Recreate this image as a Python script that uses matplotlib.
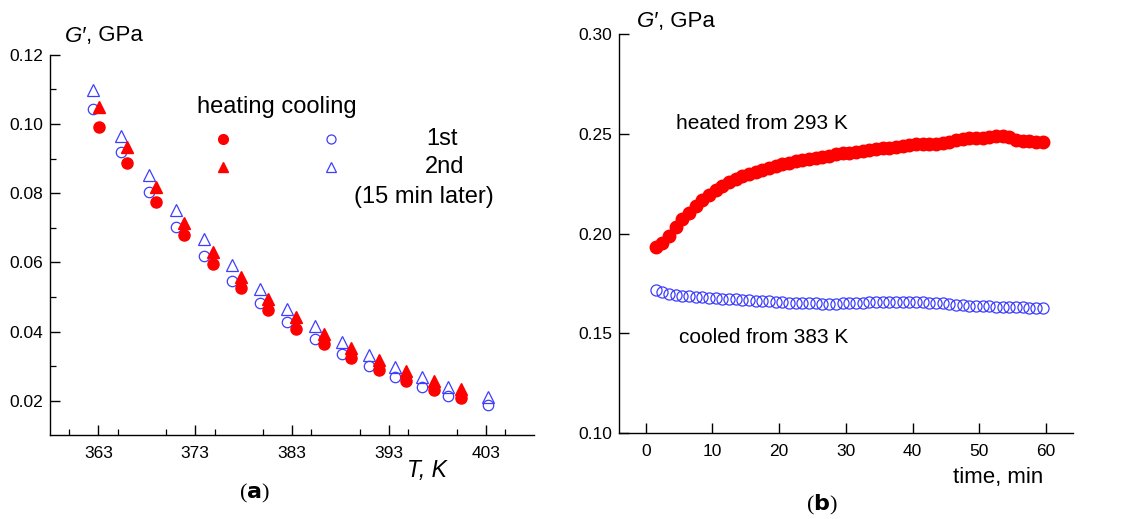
import matplotlib
matplotlib.use("Agg")
import matplotlib.pyplot as plt
from matplotlib.ticker import MultipleLocator

plt.rcParams['font.family'] = ['Liberation Sans', 'DejaVu Sans']

RED = '#ff0000'
BLUE = '#3d3dff'

# ---------- panel (a) data ----------
T_cool = [362.45, 365.34, 368.20, 371.05, 373.91, 376.77, 379.69, 382.50,
          385.39, 388.18, 390.97, 393.69, 396.48, 399.16, 403.25]
G_cool_1st = [0.1043, 0.0918, 0.0803, 0.0703, 0.0619, 0.0545, 0.0483, 0.0428,
              0.0378, 0.0336, 0.0300, 0.0269, 0.0240, 0.0215, 0.0187]
G_cool_2nd = [0.1098, 0.0966, 0.0853, 0.0751, 0.0667, 0.0592, 0.0523, 0.0466,
              0.0415, 0.0370, 0.0331, 0.0298, 0.0268, 0.0241, 0.0212]
T_heat = [363.02, 365.96, 368.95, 371.84, 374.81, 377.73, 380.54, 383.40,
          386.29, 389.08, 392.00, 394.75, 397.67, 400.50]
G_heat_1st = [0.0990, 0.0886, 0.0775, 0.0679, 0.0595, 0.0525, 0.0462, 0.0408,
              0.0363, 0.0323, 0.0289, 0.0258, 0.0231, 0.0209]
G_heat_2nd = [0.1050, 0.0933, 0.0817, 0.0715, 0.0631, 0.0558, 0.0494, 0.0441,
              0.0392, 0.0352, 0.0318, 0.0287, 0.0258, 0.0233]

# ---------- panel (b) data ----------
time_min = [1.5, 2.5, 3.5, 4.5, 5.5, 6.5, 7.5, 8.5, 9.5, 10.5, 11.5, 12.5, 13.5,
            14.5, 15.5, 16.5, 17.5, 18.5, 19.5, 20.5, 21.5, 22.5, 23.5, 24.5,
            25.5, 26.5, 27.5, 28.5, 29.5, 30.5, 31.5, 32.5, 33.5, 34.5, 35.5,
            36.5, 37.5, 38.5, 39.5, 40.5, 41.5, 42.5, 43.5, 44.5, 45.5, 46.5,
            47.5, 48.5, 49.5, 50.5, 51.5, 52.5, 53.5, 54.5, 55.5, 56.5, 57.5,
            58.5, 59.5]
G_heated = [0.1932, 0.1955, 0.1990, 0.2035, 0.2072, 0.2105, 0.2140, 0.2168,
            0.2195, 0.2220, 0.2240, 0.2258, 0.2273, 0.2287, 0.2298, 0.2310,
            0.2320, 0.2330, 0.2339, 0.2347, 0.2355, 0.2362, 0.2369, 0.2375,
            0.2381, 0.2386, 0.2392, 0.2398, 0.2403, 0.2406, 0.2410, 0.2415,
            0.2420, 0.2426, 0.2430, 0.2432, 0.2435, 0.2440, 0.2446, 0.2450,
            0.2452, 0.2450, 0.2452, 0.2456, 0.2462, 0.2468, 0.2474, 0.2478,
            0.2478, 0.2480, 0.2485, 0.2490, 0.2492, 0.2483, 0.2472, 0.2466,
            0.2463, 0.2461, 0.2460]
G_cooled = [0.1715, 0.1705, 0.1697, 0.1692, 0.1688, 0.1685, 0.1682, 0.1680,
            0.1678, 0.1676, 0.1674, 0.1672, 0.1670, 0.1668, 0.1666, 0.1664,
            0.1662, 0.1660, 0.1658, 0.1656, 0.1654, 0.1652, 0.1651, 0.1650,
            0.1650, 0.1649, 0.1649, 0.1649, 0.1650, 0.1651, 0.1652, 0.1654,
            0.1655, 0.1656, 0.1657, 0.1658, 0.1658, 0.1658, 0.1657, 0.1656,
            0.1655, 0.1654, 0.1652, 0.1650, 0.1647, 0.1644, 0.1641, 0.1639,
            0.1637, 0.1636, 0.1635, 0.1634, 0.1633, 0.1632, 0.1631, 0.1630,
            0.1629, 0.1628, 0.1627]

a_xticks = [363, 373, 383, 393, 403]
a_yticks = [0.02, 0.04, 0.06, 0.08, 0.10, 0.12]
b_xticks = [0, 10, 20, 30, 40, 50, 60]
b_yticks = [0.10, 0.15, 0.20, 0.25, 0.30]

W, H = 1127, 519
fig = plt.figure(figsize=(W / 100, H / 100), dpi=100)


def style(ax):
    for s in ['top', 'right']:
        ax.spines[s].set_visible(False)
    for s in ['left', 'bottom']:
        ax.spines[s].set_linewidth(1.0)
    ax.tick_params(which='major', direction='in', length=7, width=1.0,
                   labelsize=12.5, colors='black')
    ax.tick_params(which='minor', direction='in', length=4, width=0.9)


def ftext(x, y, s, **kw):
    fig.text(x / W, 1 - y / H, s, **kw)


# ---------- panel (a) ----------
axa = fig.add_axes([50 / W, 1 - 435 / H, 484 / W, (435 - 54.7) / H])
style(axa)
axa.set_xlim(358, 408)
axa.set_ylim(0.0101, 0.12)
axa.set_xticks(a_xticks)
axa.set_yticks(a_yticks)
axa.set_yticklabels([f"{v:.2f}" for v in a_yticks])
axa.xaxis.set_minor_locator(MultipleLocator(5))
axa.yaxis.set_minor_locator(MultipleLocator(0.01))
axa.tick_params(axis='x', which='major', pad=8)
axa.tick_params(axis='y', which='major', pad=5)

axa.plot(T_cool, G_cool_1st, 'o', ms=7.5, mfc='none', mec=BLUE, mew=0.9,
         clip_on=False, zorder=3)
axa.plot(T_cool, G_cool_2nd, '^', ms=8.0, mfc='none', mec=BLUE, mew=0.9,
         clip_on=False, zorder=3)
axa.plot(T_heat, G_heat_1st, 'o', ms=8.0, color=RED, mec=RED,
         clip_on=False, zorder=4)
axa.plot(T_heat, G_heat_2nd, '^', ms=8.0, color=RED, mec=RED,
         clip_on=False, zorder=4)

# legend-like annotations (positions in figure pixels)
ftext(197, 107, "heating cooling", fontsize=17, va='center', ha='left')
fig.add_artist(plt.Line2D([223 / W], [1 - 139 / H], marker='o', ms=7,
                          color=RED, ls='none'))
fig.add_artist(plt.Line2D([331 / W], [1 - 139 / H], marker='o', ms=6.5,
                          mfc='none', mec=BLUE, mew=0.9, ls='none'))
fig.add_artist(plt.Line2D([223 / W], [1 - 167 / H], marker='^', ms=7.5,
                          color=RED, ls='none'))
fig.add_artist(plt.Line2D([331 / W], [1 - 167 / H], marker='^', ms=7,
                          mfc='none', mec=BLUE, mew=0.9, ls='none'))
ftext(442, 139, "1st", fontsize=17, va='center', ha='center')
ftext(445, 167, "2nd", fontsize=17, va='center', ha='center')
ftext(424, 197, "(15 min later)", fontsize=17, va='center', ha='center')

ftext(65, 36, "G\u2032", fontsize=16, style='italic', va='center', ha='left')
ftext(86, 36, ", GPa", fontsize=16, va='center', ha='left')
ftext(407, 470, "T, K", fontsize=16.5, style='italic', va='center', ha='left')
ftext(254, 493, r"($\mathbf{a}$)", fontsize=16, va='center', ha='center',
      family=['Liberation Serif'])

# ---------- panel (b) ----------
axb = fig.add_axes([619 / W, 1 - 433 / H, 453.7 / W, (433 - 34.3) / H])
style(axb)
axb.set_xlim(-4, 64)
axb.set_ylim(0.10, 0.30)
axb.set_xticks(b_xticks)
axb.set_yticks(b_yticks)
axb.set_yticklabels([f"{v:.2f}" for v in b_yticks])
axb.tick_params(axis='x', which='major', pad=8)
axb.tick_params(axis='y', which='major', pad=5)

axb.plot(time_min, G_cooled, 'o', ms=8, mfc='none', mec=BLUE, mew=0.9,
         zorder=3)
axb.plot(time_min, G_heated, 'o', ms=9, color=RED, mec=RED, zorder=4)

axb.text(4.5, 0.2555, "heated from 293 K", fontsize=15, ha='left',
         va='center')
axb.text(5.0, 0.148, "cooled from 383 K", fontsize=15, ha='left',
         va='center')

ftext(637, 22, "G\u2032", fontsize=16, style='italic', va='center', ha='left')
ftext(658, 22, ", GPa", fontsize=16, va='center', ha='left')
ftext(998, 477, "time, min", fontsize=16, va='center', ha='center')
ftext(822, 505, r"($\mathbf{b}$)", fontsize=16, va='center', ha='center',
      family=['Liberation Serif'])

fig.savefig("out.png", dpi=100)
